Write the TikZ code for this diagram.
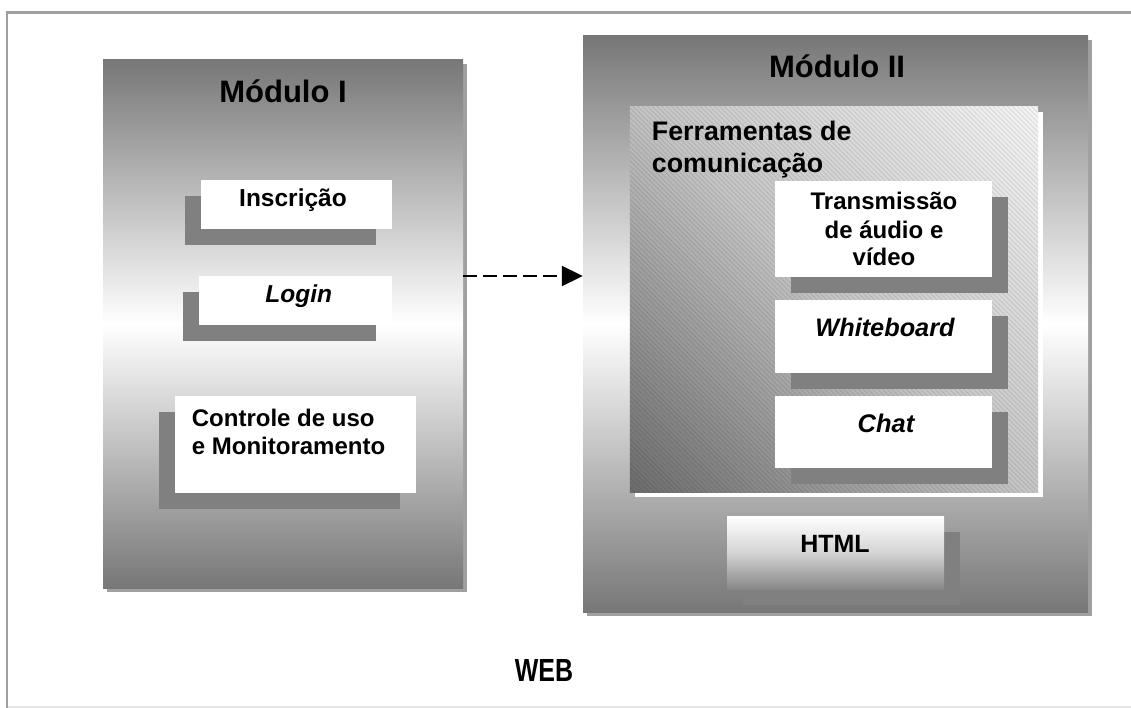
\documentclass[tikz,border=0pt]{standalone}
\usepackage{fontspec}
\setmainfont{Liberation Sans}
\usetikzlibrary{calc,arrows.meta,shadows}

\definecolor{modgray}{HTML}{777777}
\definecolor{modshadow}{HTML}{A0A0A0}
\definecolor{boxshadow}{HTML}{808080}
\definecolor{framegray}{HTML}{A0A0A0}
\definecolor{framelight}{HTML}{E6E6E6}
\definecolor{toolsdark}{HTML}{6C6C6C}
\definecolor{toolsmid}{HTML}{C4C4C4}
\definecolor{toolslight}{HTML}{F4F4F4}
\definecolor{htmlbottom}{HTML}{888888}
\definecolor{htmlmid}{HTML}{D4D4D4}

\begin{document}
\begin{tikzpicture}[x=1pt,y=-1pt,
  module/.style={rectangle, draw=none, inner sep=0pt,
    top color=modgray, bottom color=modgray, middle color=white,
    general shadow={fill=modshadow, shadow xshift=4pt, shadow yshift=-4pt}},
  toolsbox/.style={rectangle, draw=none, fill=toolsmid, inner sep=0pt,
    general shadow={fill=white, shadow xshift=5pt, shadow yshift=-5pt}},
  toolsshade/.style={shading=axis, top color=toolslight, bottom color=toolsdark,
    middle color=toolsmid, shading angle=-45},
  hatch/.style={draw=black, line width=0.8pt, draw opacity=0.1},
  leftbox/.style={rectangle, draw=none, fill=white, inner sep=0pt,
    general shadow={fill=boxshadow, shadow xshift=-16pt, shadow yshift=-16pt}},
  rightbox/.style={rectangle, draw=none, fill=white, inner sep=0pt,
    general shadow={fill=boxshadow, shadow xshift=16pt, shadow yshift=-16pt}},
  htmlbox/.style={rectangle, draw=none, inner sep=0pt,
    top color=white, bottom color=htmlbottom, middle color=htmlmid,
    general shadow={fill=boxshadow, shadow xshift=16pt, shadow yshift=-16pt}},
  title/.style={inner sep=0pt, anchor=base, font=\bfseries\fontsize{31}{37}\selectfont},
  lbl/.style={inner sep=0pt, anchor=base, font=\bfseries\fontsize{24.5}{29}\selectfont},
  dasharrow/.style={line width=2pt, dash pattern=on 14pt off 6pt,
    -{Triangle[length=21pt,width=20pt]}}
]
\useasboundingbox (0,0) rectangle (1131,708);

% page frame
\draw[framegray, line width=2.5pt] (7,708) -- (7,12.5) -- (1131,12.5);
\draw[framelight, line width=2pt] (8,707) -- (1131,707);

% the two modules
\node[module, minimum width=360pt, minimum height=528pt] (mod1) at (283,324) {};
\node[module, minimum width=505pt, minimum height=576pt] (mod2) at (835.5,324) {};

% communication tools panel: diagonal gradient from lower left to upper right,
% covered with a fine diagonal hatching
\node[toolsbox, minimum width=408pt, minimum height=385pt] (tools) at (834,299.5) {};
\begin{scope}
  \clip (tools.north west) rectangle (tools.south east);
  \shade[toolsshade] ($(tools.center)+(-280.4,-280.4)$) rectangle ($(tools.center)+(280.4,280.4)$);
  \foreach \c in {138,142.8,...,935}
    \draw[hatch] (\c+100,100) -- (\c+500,500);
\end{scope}

% boxes of module I
\node[leftbox, minimum width=191pt, minimum height=49pt] (insc) at (296.5,204.5) {};
\node[leftbox, minimum width=193pt, minimum height=49pt] (login) at (295.5,300.5) {};
\node[leftbox, minimum width=241pt, minimum height=97pt] (ctrl) at (295.5,444.5) {};

% boxes of module II
\node[rightbox, minimum width=217pt, minimum height=96pt] (trans) at (883.5,229) {};
\node[rightbox, minimum width=217pt, minimum height=73pt] (wboard) at (883.5,336.5) {};
\node[rightbox, minimum width=217pt, minimum height=72pt] (chat) at (883.5,432) {};
\node[htmlbox, minimum width=217pt, minimum height=73pt] (html) at (835.5,552.5) {};

% texts
\node[title] (t1) at (283,102.3) {Módulo I};
\node[title] (t2) at (837,77.7) {Módulo II};

\node[lbl] (tinsc) at (293,206.7) {Inscrição};
\node[lbl] (tlogin) at (298.7,302.3) {\itshape Login};
\node[lbl, anchor=base west, font=\bfseries\fontsize{24}{28}\selectfont] (tctrla) at (191.7,426.7) {Controle de uso};
\node[lbl, anchor=base west, font=\bfseries\fontsize{24}{28}\selectfont] (tctrlb) at (191.7,454) {e Monitoramento};

\node[lbl, anchor=base west, font=\bfseries\fontsize{26.8}{32}\selectfont] (ttoolsa) at (651.7,141) {Ferramentas de};
\node[lbl, anchor=base west, font=\bfseries\fontsize{26.8}{32}\selectfont] (ttoolsb) at (651.7,172.7) {comunicação};

\node[lbl, font=\bfseries\fontsize{24}{28}\selectfont] (ttransa) at (884,210) {Transmissão};
\node[lbl, font=\bfseries\fontsize{24}{28}\selectfont] (ttransb) at (884,238.3) {de áudio e};
\node[lbl, font=\bfseries\fontsize{24}{28}\selectfont] (ttransc) at (884,266) {vídeo};

\node[lbl, font=\bfseries\itshape\fontsize{25.3}{30}\selectfont] (twboard) at (885,336.7) {Whiteboard};
\node[lbl, font=\bfseries\itshape\fontsize{25.5}{30}\selectfont] (tchat) at (886,432.7) {Chat};
\node[lbl, font=\bfseries\fontsize{25}{30}\selectfont] (thtml) at (835,552.7) {HTML};

\node[lbl, font=\bfseries\fontsize{32}{38}\selectfont] (tweb) at (544,681) {\scalebox{0.78}[1]{WEB}};

% link from module I to module II
\coordinate (arrowrow) at (0,276);
\draw[dasharrow] (mod1.east |- arrowrow) -- (mod2.west |- arrowrow);
\end{tikzpicture}
\end{document}
